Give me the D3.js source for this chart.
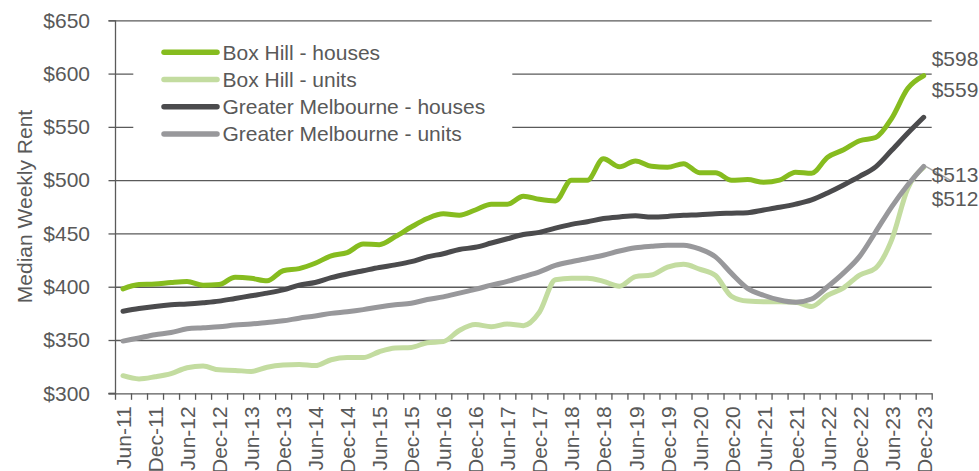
<!DOCTYPE html>
<html>
<head>
<meta charset="utf-8">
<script src="https://cdn.jsdelivr.net/npm/d3@7/dist/d3.min.js"></script>
<style>
  html, body { margin: 0; padding: 0; background: #ffffff; }
  svg { display: block; font-family: "Liberation Sans", Arial, sans-serif; }
</style>
</head>
<body>
<svg id="chart" width="979" height="471"></svg>
<script>
// ---------- DATA ----------
const categories = [
  "Jun-11","Sep-11","Dec-11","Mar-12","Jun-12","Sep-12","Dec-12","Mar-13","Jun-13","Sep-13",
  "Dec-13","Mar-14","Jun-14","Sep-14","Dec-14","Mar-15","Jun-15","Sep-15","Dec-15","Mar-16",
  "Jun-16","Sep-16","Dec-16","Mar-17","Jun-17","Sep-17","Dec-17","Mar-18","Jun-18","Sep-18",
  "Dec-18","Mar-19","Jun-19","Sep-19","Dec-19","Mar-20","Jun-20","Sep-20","Dec-20","Mar-21",
  "Jun-21","Sep-21","Dec-21","Mar-22","Jun-22","Sep-22","Dec-22","Mar-23","Jun-23","Sep-23",
  "Dec-23"
];
const tickLabels = [
  "Jun-11","Dec-11","Jun-12","Dec-12","Jun-13","Dec-13","Jun-14","Dec-14","Jun-15","Dec-15",
  "Jun-16","Dec-16","Jun-17","Dec-17","Jun-18","Dec-18","Jun-19","Dec-19","Jun-20","Dec-20",
  "Jun-21","Dec-21","Jun-22","Dec-22","Jun-23","Dec-23"
];
const yTicks = [300, 350, 400, 450, 500, 550, 600, 650];

const boxHillHouses = [
  398, 402, 402.5, 404, 405, 401.5, 402, 409, 408, 405.5,
  415, 417, 422, 429, 432, 440, 439.5, 447, 456, 464,
  468.5, 467, 472, 477.5, 477.5, 485, 482, 480.5, 500, 500,
  520, 512.5, 518, 513, 512, 515.5, 507, 507, 500, 500.5,
  498, 500, 507.5, 506.5, 521.5, 528.5, 537, 540, 558, 586,
  598
];
const boxHillUnits = [
  316.5, 313.5, 315.5, 318.5, 324, 325.5, 322, 321.5, 320.5, 324.5,
  326.5, 327, 326, 331.5, 333.5, 333.5, 339, 342.5, 343, 347.5,
  348.5, 359, 364.5, 362.5, 365, 363.5, 376, 406.5, 408, 408,
  405, 400.5, 409.5, 411, 418.5, 421, 416.5, 410.5, 391, 386.5,
  386, 386, 385.5, 381.5, 392, 399, 411, 417.5, 444, 492,
  512
];
const melbHouses = [
  377, 379.5, 381.5, 383, 383.8, 385, 386.5, 389, 391.5, 394,
  397, 401.5, 404, 408.5, 412, 415, 418, 420.5, 423.5, 428,
  431, 435, 437, 441, 445, 449, 451, 455, 458.5, 461,
  464, 465.5, 466.5, 465.5, 466, 467, 467.5, 468.5, 469, 469.5,
  472, 474.5, 477.5, 481.5, 488, 495.5, 503.5, 512.5, 528, 544,
  559
];
const melbUnits = [
  349, 352, 355, 357, 360.5, 361.5, 362.5, 364, 365, 366.5,
  368, 370.5, 372.5, 375, 376.5, 378.5, 381, 383, 384.5, 388,
  390.5, 394, 397.5, 401.5, 405, 409.5, 414, 420, 423.5, 426.5,
  429.5, 433.5, 436.5, 438, 439, 439, 435.5, 428, 412.5, 398.5,
  392, 387.5, 385.5, 388.5, 400, 413, 428.5, 451.5, 475, 495.5,
  513
];
const seriesNames = ["Box Hill - houses", "Box Hill - units", "Greater Melbourne - houses", "Greater Melbourne - units"];
const endLabels = ["$598", "$559", "$513", "$512"];

// ---------- STYLE / LAYOUT ----------
const colors = ["#86BC1F", "#C3DCA0", "#4B4B4D", "#98989B"];
const textColor = "#595959";
const gridColor = "#5a5a5a";
const FONT = 21;
const M = { left: 115, right: 931.7, top: 20.3, bottom: 393.3 };

const series = [boxHillHouses, boxHillUnits, melbHouses, melbUnits];

const svg = d3.select("#chart");

const x = d3.scalePoint().domain(categories).range([M.left, M.right]).padding(0.5);
const xb = d3.scaleLinear().domain([0, categories.length]).range([M.left, M.right]);
const y = d3.scaleLinear().domain([300, 650]).range([M.bottom, M.top]);

// Gridlines
const grid = svg.append("g")
  .attr("transform", `translate(${M.left},0)`)
  .call(d3.axisLeft(y).tickValues(yTicks.filter(v => v > 300)).tickSize(-(M.right - M.left)).tickFormat(""));
grid.select(".domain").remove();
grid.selectAll("line").attr("stroke", gridColor).attr("stroke-width", 1.3);

// Legend background (hides gridlines behind legend)
svg.append("rect")
  .attr("x", 133.3).attr("y", 30).attr("width", 512.3 - 133.3).attr("height", 130)
  .attr("fill", "#ffffff");

// Y axis
const yAxis = svg.append("g")
  .attr("transform", `translate(${M.left},0)`)
  .call(d3.axisLeft(y).tickValues(yTicks).tickSize(6.5).tickPadding(18.5).tickFormat(d => "$" + d));
yAxis.select(".domain").attr("stroke", gridColor).attr("stroke-width", 1.3);
yAxis.selectAll(".tick line").attr("stroke", gridColor).attr("stroke-width", 1.3);
yAxis.selectAll("text").attr("fill", textColor).style("font-size", FONT + "px")
  .style("font-family", '"Liberation Sans", Arial, sans-serif');

// X axis tick marks (category boundaries)
const xTickAxis = svg.append("g")
  .attr("transform", `translate(0,${M.bottom})`)
  .call(d3.axisBottom(xb).tickValues(d3.range(categories.length + 1)).tickSize(6.5).tickFormat("").tickSizeOuter(0));
xTickAxis.select(".domain").attr("stroke", gridColor).attr("stroke-width", 1.3);
xTickAxis.selectAll(".tick line").attr("stroke", gridColor).attr("stroke-width", 1.3);
// extend baseline to the left tick
svg.append("line")
  .attr("x1", M.left - 6.5).attr("x2", M.left)
  .attr("y1", M.bottom).attr("y2", M.bottom)
  .attr("stroke", gridColor).attr("stroke-width", 1.3);

// X axis labels (Jun / Dec)
const xLab = svg.append("g")
  .attr("transform", `translate(0,${M.bottom})`)
  .call(d3.axisBottom(x).tickValues(tickLabels).tickSize(0).tickPadding(0));
xLab.select(".domain").remove();
xLab.selectAll("text")
  .attr("fill", textColor)
  .style("font-size", FONT + "px")
  .style("font-family", '"Liberation Sans", Arial, sans-serif')
  .attr("text-anchor", "end")
  .attr("transform", "translate(0,13) rotate(-90)")
  .attr("x", 0).attr("y", 0).attr("dy", "0.36em");

// Y axis title
svg.append("text")
  .attr("transform", "translate(31.5,206.5) rotate(-90)")
  .attr("text-anchor", "middle")
  .attr("fill", textColor)
  .style("font-size", FONT + "px")
  .text("Median Weekly Rent");

// Lines
const line = d3.line()
  .x((d, i) => x(categories[i]))
  .y(d => y(d))
  .curve(d3.curveMonotoneX);

series.forEach((s, k) => {
  svg.append("path")
    .datum(s)
    .attr("d", line)
    .attr("fill", "none")
    .attr("stroke", colors[k])
    .attr("stroke-width", 5)
    .attr("stroke-linejoin", "round")
    .attr("stroke-linecap", "round");
});

// Legend
const legend = svg.append("g");
seriesNames.forEach((name, k) => {
  const cy = 52.3 + k * 27.2;
  legend.append("line")
    .attr("x1", 164).attr("x2", 217).attr("y1", cy).attr("y2", cy)
    .attr("stroke", colors[k]).attr("stroke-width", 5.5).attr("stroke-linecap", "round");
  legend.append("text")
    .attr("x", 222.5).attr("y", cy).attr("dy", "0.35em")
    .attr("fill", textColor).style("font-size", FONT + "px")
    .text(name);
});

// End labels
const lastCat = categories[categories.length - 1];
const labelDy = [-10, -20, 15.4, 38.3];
const labelSrc = [boxHillHouses, melbHouses, melbUnits, boxHillUnits];
// leader line for the Greater Melbourne units label
svg.append("line")
  .attr("x1", x(lastCat) + 2).attr("y1", y(melbUnits[melbUnits.length - 1]))
  .attr("x2", x(lastCat) + 27).attr("y2", y(melbUnits[melbUnits.length - 1]) + 14)
  .attr("stroke", "#a6a6a6").attr("stroke-width", 1.5);
endLabels.forEach((t, k) => {
  const src = labelSrc[k];
  svg.append("text")
    .attr("x", M.right)
    .attr("y", y(src[src.length - 1]) + labelDy[k])
    .attr("fill", textColor)
    .style("font-size", FONT + "px")
    .text(t);
});
</script>
</body>
</html>
